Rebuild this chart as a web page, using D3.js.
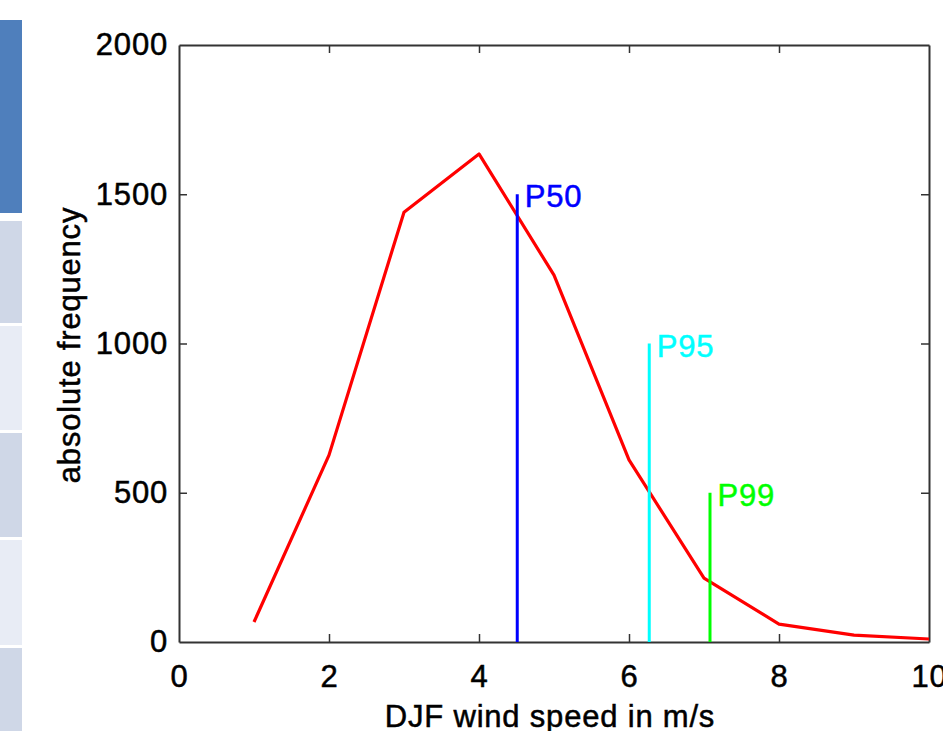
<!DOCTYPE html>
<html>
<head>
<meta charset="utf-8">
<script src="https://cdn.jsdelivr.net/npm/d3@7"></script>
<style>
  body { margin: 0; background: #fff; }
  svg { display: block; font-family: "Liberation Sans", Arial, sans-serif; }
</style>
</head>
<body>
<svg id="chart" width="943" height="731"></svg>
<script>
// données
const windSpeed = [1, 2, 3, 4, 5, 6, 7, 8, 9, 10];
const frequency = [67, 626, 1440, 1635, 1229, 610, 214, 60, 23, 10];
const pctNames = ['P50', 'P95', 'P99'];
const pctValues = [4.51, 6.27, 7.08];
const pctHeights = [1500, 1000, 500];
const pctColors = ['#0000ff', '#00ffff', '#00ff00'];
const xTicks = [0, 2, 4, 6, 8, 10];
const yTicks = [0, 500, 1000, 1500, 2000];

// bandeau de gauche (morceau de l'interface)
const stripTops = [20, 221, 326, 433, 540, 648];
const stripBottoms = [213, 323, 430, 537, 645, 731];
const stripColors = ['#4f7fbc', '#cfd7e7', '#e8ecf5', '#cfd7e7', '#e8ecf5', '#cfd7e7'];

const svg = d3.select('#chart');
const margin = { left: 179, top: 45, right: 929, bottom: 642 };

const x = d3.scaleLinear().domain([0, 10]).range([margin.left, margin.right]);
const y = d3.scaleLinear().domain([0, 2000]).range([margin.bottom, margin.top]);

svg.append('rect').attr('width', 943).attr('height', 731).attr('fill', '#fff');

// bandeau
svg.append('g').selectAll('rect')
  .data(stripTops)
  .enter()
  .append('rect')
  .attr('x', 0)
  .attr('y', d => d)
  .attr('width', 22)
  .attr('height', (d, i) => stripBottoms[i] - d)
  .attr('fill', (d, i) => stripColors[i]);

// axes façon Matlab : ticks vers l'intérieur, sur les quatre côtés
const tickLen = 8;
const font = '31px';
const spacing = '0.8px';

const bottomAxis = d3.axisBottom(x).tickValues(xTicks).tickFormat(d3.format('d'))
  .tickSizeInner(-tickLen).tickSizeOuter(0).tickPadding(23);
const topAxis = d3.axisTop(x).tickValues(xTicks).tickSizeInner(-tickLen).tickSizeOuter(0).tickFormat('');
const leftAxis = d3.axisLeft(y).tickValues(yTicks).tickFormat(d3.format('d'))
  .tickSizeInner(-tickLen).tickSizeOuter(0).tickPadding(11);
const rightAxis = d3.axisRight(y).tickValues(yTicks).tickSizeInner(-tickLen).tickSizeOuter(0).tickFormat('');

function styleAxis(g) {
  g.select('.domain').attr('stroke', '#333').attr('stroke-width', 2);
  g.selectAll('.tick line').attr('stroke', '#333').attr('stroke-width', 1.5);
  g.selectAll('.tick text')
    .attr('fill', '#000')
    .attr('stroke', '#000')
    .attr('stroke-width', 0.5)
    .style('font-size', font)
    .style('letter-spacing', spacing)
    .style('font-family', '"Liberation Sans", Arial, sans-serif');
}

svg.append('g').attr('transform', `translate(0,${margin.bottom})`).call(bottomAxis).call(styleAxis);
svg.append('g').attr('transform', `translate(0,${margin.top})`).call(topAxis).call(styleAxis);
svg.append('g').attr('transform', `translate(${margin.left},0)`).call(leftAxis).call(styleAxis);
svg.append('g').attr('transform', `translate(${margin.right},0)`).call(rightAxis).call(styleAxis);

// masquer les ticks aux extrémités (sur les coins)
svg.selectAll('.tick').filter(d => d === 0 || d === 10 || d === 2000)
  .select('line').attr('display', 'none');

// courbe
const line = d3.line()
  .x((d, i) => x(windSpeed[i]))
  .y(d => y(d));

svg.append('path')
  .datum(frequency)
  .attr('fill', 'none')
  .attr('stroke', '#ff0000')
  .attr('stroke-width', 3.2)
  .attr('stroke-linejoin', 'round')
  .attr('d', line);

// percentiles
const pct = svg.append('g');
pct.selectAll('line')
  .data(pctValues)
  .enter()
  .append('line')
  .attr('x1', d => x(d))
  .attr('x2', d => x(d))
  .attr('y1', y(0))
  .attr('y2', (d, i) => y(pctHeights[i]))
  .attr('stroke', (d, i) => pctColors[i])
  .attr('stroke-width', 3);

pct.selectAll('text')
  .data(pctValues)
  .enter()
  .append('text')
  .attr('x', d => x(d + 0.1))
  .attr('y', (d, i) => y(pctHeights[i]))
  .attr('dy', '0.42em')
  .attr('fill', (d, i) => pctColors[i])
  .attr('stroke', (d, i) => pctColors[i])
  .attr('stroke-width', 0.5)
  .style('font-size', font)
  .style('letter-spacing', spacing)
  .text((d, i) => pctNames[i]);

// titres des axes
svg.append('text')
  .attr('x', 550)
  .attr('y', 727)
  .attr('text-anchor', 'middle')
  .attr('stroke', '#000')
  .attr('stroke-width', 0.5)
  .style('font-size', font)
  .style('letter-spacing', spacing)
  .text('DJF wind speed in m/s');

svg.append('text')
  .attr('transform', `translate(80,345) rotate(-90)`)
  .attr('text-anchor', 'middle')
  .attr('stroke', '#000')
  .attr('stroke-width', 0.5)
  .style('font-size', font)
  .style('letter-spacing', spacing)
  .text('absolute frequency');
</script>
</body>
</html>
